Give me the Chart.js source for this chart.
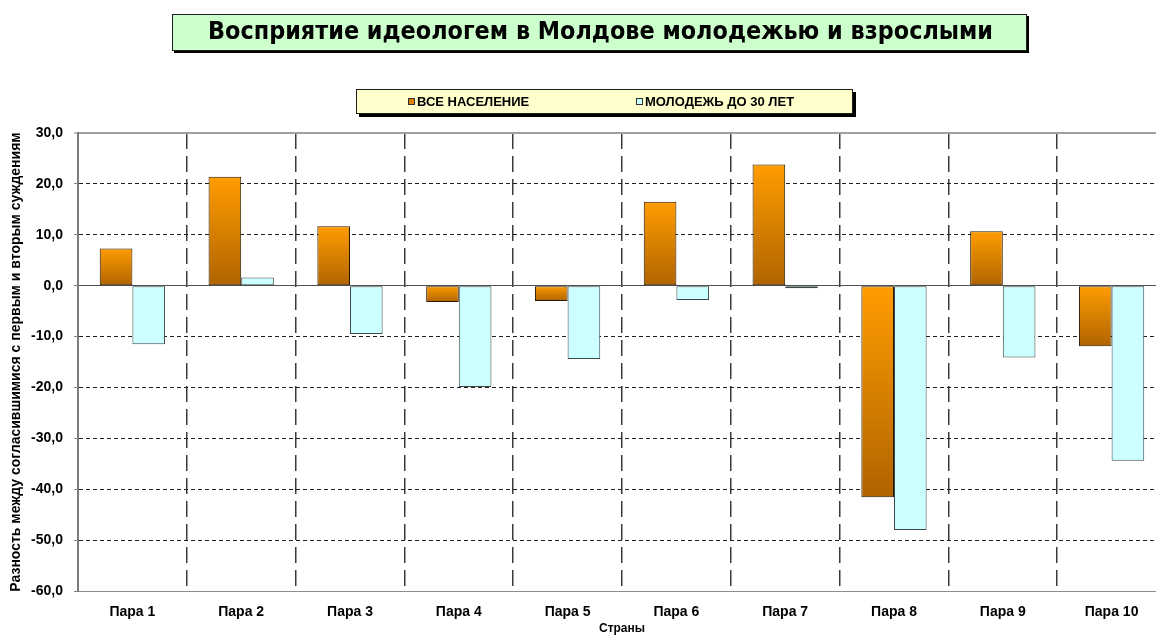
<!DOCTYPE html>
<html>
<head>
<meta charset="utf-8">
<script src="https://cdn.jsdelivr.net/npm/chart.js@4.4.1/dist/chart.umd.min.js"></script>
<style>
  html, body { margin: 0; padding: 0; background: #ffffff; overflow: hidden; }
  #wrap { position: relative; width: 1172px; height: 636px; }
</style>
</head>
<body>
<div id="wrap"><canvas id="chart"></canvas></div>
<script>
// ---- data ----
const chartTitle = 'Восприятие идеологем в Молдове молодежью и взрослыми';
const categories = ['Пара 1', 'Пара 2', 'Пара 3', 'Пара 4', 'Пара 5',
                    'Пара 6', 'Пара 7', 'Пара 8', 'Пара 9', 'Пара 10'];
const seriesNames = ['ВСЕ НАСЕЛЕНИЕ', 'МОЛОДЕЖЬ ДО 30 ЛЕТ'];
const allPopulation = [7.3, 21.4, 11.7, -3.2, -3.0, 16.5, 23.8, -41.6, 10.7, -11.9];
const youthUnder30 = [-11.5, 1.6, -9.5, -19.9, -14.4, -2.8, -0.5, -48.0, -14.1, -34.4];
const yTickValues = [-60, -50, -40, -30, -20, -10, 0, 10, 20, 30];
const yAxisTitle = 'Разность между согласившимися с первым и вторым суждениям';
const xAxisTitle = 'Страны';

const FONT = "'Liberation Sans', Arial, sans-serif";

// vertical orange gradient, light at the top of each bar and darker at its bottom
function orangeFill(ctx) {
  const chart = ctx.chart;
  const y = chart.scales && chart.scales.y;
  if (ctx.type !== 'data' || !chart.chartArea || !y) return '#e88a00';
  const v = ctx.raw;
  const top = y.getPixelForValue(Math.max(v, 0));
  const bottom = y.getPixelForValue(Math.min(v, 0));
  if (bottom - top < 1) return '#e88a00';
  const g = chart.ctx.createLinearGradient(0, top, 0, bottom);
  g.addColorStop(0, '#ff9c00');
  g.addColorStop(1, '#b06400');
  return g;
}

function fmtTick(v) {
  return Number(v).toFixed(1).replace('.', ',');
}

function panel(ctx, x, y, w, h, fill, shadow) {
  ctx.fillStyle = '#000000';
  ctx.fillRect(x + shadow, y + shadow, w, h);
  ctx.fillStyle = fill;
  ctx.fillRect(x, y, w, h);
  ctx.strokeStyle = '#202020';
  ctx.lineWidth = 1;
  ctx.strokeRect(x + 0.5, y + 0.5, w - 1, h - 1);
}

// framed title and legend panels above the plot
const headerPanels = {
  id: 'headerPanels',
  afterDraw(chart) {
    const ctx = chart.ctx;
    ctx.save();
    panel(ctx, 172, 14, 855, 37, '#ccffcc', 2);
    ctx.font = "bold 24px 'DejaVu Sans', " + FONT;
    const w = ctx.measureText(chartTitle).width;
    ctx.translate(600.5, 33);
    ctx.scale(785 / w, 1);
    ctx.textAlign = 'center';
    ctx.textBaseline = 'middle';
    ctx.fillStyle = '#000000';
    ctx.fillText(chartTitle, 0, 0);
    ctx.restore();

    ctx.save();
    panel(ctx, 356, 89, 497, 25, '#ffffcc', 3);
    const swatchX = [408, 636];
    const swatchFill = ['#e08400', '#ccffff'];
    ctx.font = 'bold 13px ' + FONT;
    ctx.textBaseline = 'middle';
    ctx.textAlign = 'left';
    chart.data.datasets.forEach((ds, i) => {
      const x = swatchX[i];
      ctx.fillStyle = swatchFill[i];
      ctx.fillRect(x, 98, 7, 7);
      ctx.strokeStyle = '#303030';
      ctx.lineWidth = 1;
      ctx.strokeRect(x + 0.5, 98.5, 6, 6);
      ctx.fillStyle = '#000000';
      ctx.fillText(ds.label, x + 9, 102);
    });
    ctx.restore();
  }
};

const hDashed = v => ![0, 30, -60].includes(v);

new Chart(document.getElementById('chart'), {
  type: 'bar',
  data: {
    labels: categories,
    datasets: [
      {
        label: seriesNames[0],
        data: allPopulation,
        backgroundColor: orangeFill,
        borderColor: '#2a1800',
        borderWidth: 1,
        borderSkipped: false,
        categoryPercentage: 0.6,
        barPercentage: 1.0
      },
      {
        label: seriesNames[1],
        data: youthUnder30,
        backgroundColor: '#ccffff',
        borderColor: '#3c4848',
        borderWidth: 1,
        borderSkipped: false,
        categoryPercentage: 0.6,
        barPercentage: 1.0
      }
    ]
  },
  options: {
    responsive: true,
    maintainAspectRatio: false,
    animation: false,
    layout: { padding: { top: 133, right: 6, left: 0, bottom: 0 } },
    plugins: {
      legend: { display: false },
      title: { display: false },
      tooltip: { enabled: false }
    },
    scales: {
      x: {
        offset: true,
        afterFit: s => { s.height = 45; },
        grid: {
          offset: true,
          drawTicks: false,
          color: ctx => (ctx.index === 0 ? 'rgba(0,0,0,0)' : '#3a3a3a'),
          lineWidth: 1.5
        },
        border: {
          display: true,
          color: '#8c8c8c',
          width: 1,
          dash: ctx => (ctx.type === 'tick' ? [16, 7] : [])
        },
        ticks: {
          color: '#000000',
          font: { family: FONT, size: 14, weight: 'bold' },
          padding: 13,
          maxRotation: 0,
          autoSkip: false
        },
        title: {
          display: true,
          text: xAxisTitle,
          color: '#000000',
          font: { family: FONT, size: 12, weight: 'bold' },
          padding: { top: 0, bottom: 0 }
        }
      },
      y: {
        min: -60,
        max: 30,
        afterFit: s => { s.width = 78; },
        afterBuildTicks: s => { s.ticks = yTickValues.map(v => ({ value: v })); },
        grid: {
          drawTicks: true,
          tickLength: 4,
          tickColor: '#808080',
          tickWidth: 1,
          color: ctx => {
            const v = ctx.tick ? ctx.tick.value : null;
            if (v === 30) return '#a0a0a0';
            if (v === 0) return '#505050';
            if (v === -60) return '#8c8c8c';
            return '#202020';
          },
          lineWidth: ctx => (ctx.tick && ctx.tick.value === 30 ? 2 : 1)
        },
        border: {
          display: true,
          color: '#7c7c7c',
          width: 2,
          dash: ctx => (ctx.tick && hDashed(ctx.tick.value) ? [4, 3] : [])
        },
        ticks: {
          color: '#000000',
          font: { family: FONT, size: 14, weight: 'bold' },
          padding: 11,
          callback: v => fmtTick(v)
        },
        title: {
          display: true,
          text: yAxisTitle,
          color: '#000000',
          font: { family: FONT, size: 14, weight: 'bold' },
          padding: { top: 8, bottom: 0 }
        }
      }
    }
  },
  plugins: [headerPanels]
});
</script>
</body>
</html>
